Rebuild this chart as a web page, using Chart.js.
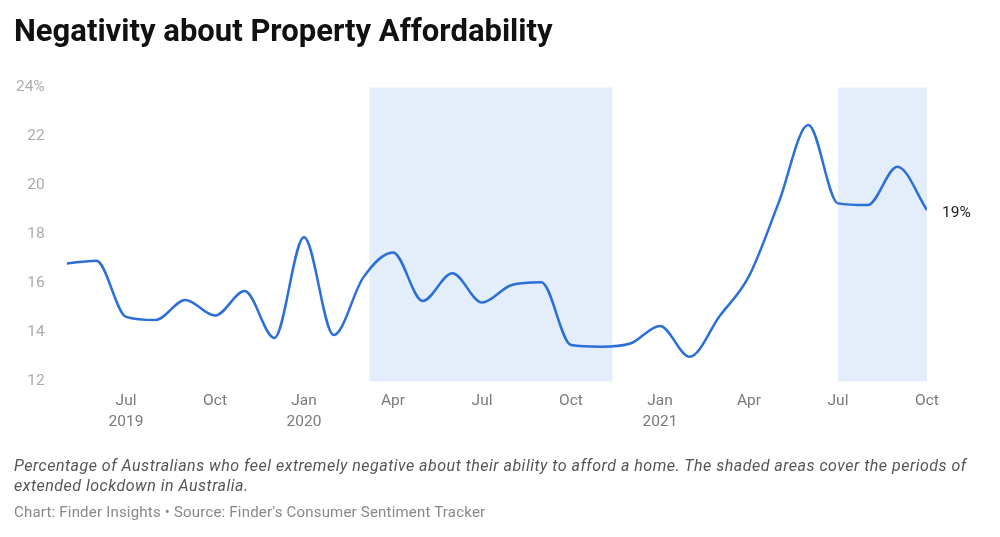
<!DOCTYPE html>
<html>
<head>
<meta charset="utf-8">
<script src="https://cdn.jsdelivr.net/npm/chart.js@4"></script>
<style>
  html, body { margin:0; padding:0; background:#fff; width:1000px; height:537px; overflow:hidden; font-family: Roboto, "Noto Sans", sans-serif; }
  #wrap { position:absolute; left:0; top:0; width:1000px; height:537px; }
  #title { position:absolute; left:14px; top:11px; font-size:31px; line-height:40px; font-weight:700; color:#111; white-space:nowrap; }
  #caption { position:absolute; left:14px; top:456px; width:975px; font-size:16px; letter-spacing:0.5px; font-style:italic; color:#555; line-height:20px; }
  #source { position:absolute; left:14px; top:503px; font-size:15px; letter-spacing:0.2px; color:#888; white-space:nowrap; }
  canvas { position:absolute; left:0; top:0; }
</style>
</head>
<body>
<div id="wrap">
  <canvas id="c" width="1000" height="537"></canvas>
  <div id="title">Negativity about Property Affordability</div>
  <div id="caption">Percentage of Australians who feel extremely negative about their ability to afford a home. The shaded areas cover the periods of extended lockdown in Australia.</div>
  <div id="source">Chart: Finder Insights • Source: Finder's Consumer Sentiment Tracker</div>
</div>
<script>
// Months from May 2019 (index 0) to Oct 2021 (index 29)
const months = ['2019-05','2019-06','2019-07','2019-08','2019-09','2019-10','2019-11','2019-12',
  '2020-01','2020-02','2020-03','2020-04','2020-05','2020-06','2020-07','2020-08','2020-09','2020-10','2020-11','2020-12',
  '2021-01','2021-02','2021-03','2021-04','2021-05','2021-06','2021-07','2021-08','2021-09','2021-10'];
const negativity = [16.82,16.93,14.64,14.51,15.33,14.69,15.69,13.78,
  17.89,13.90,16.25,17.27,15.29,16.42,15.22,15.94,16.05,13.49,13.42,13.55,
  14.27,13.01,14.65,16.30,19.30,22.47,19.27,19.20,20.77,19.00];
// Lockdown periods (month index start, end)
const lockdownStart = [10.2, 26.0];
const lockdownEnd   = [18.4, 29.0];
// X tick positions (month index) and labels
const xTickIndex = [2,5,8,11,14,17,20,23,26,29];
const xTickMonth = ['Jul','Oct','Jan','Apr','Jul','Oct','Jan','Apr','Jul','Oct'];
const xTickYear  = ['2019','','2020','','','','2021','','',''];
const yTicks = [12,14,16,18,20,22,24];
const endLabel = '19%';

const points = negativity.map((v,i)=>({x:i, y:v}));

const shadePlugin = {
  id:'shade',
  beforeDatasetsDraw(chart){
    const {ctx, chartArea, scales:{x}} = chart;
    ctx.save();
    ctx.fillStyle = '#e4eefb';
    for (let i=0;i<lockdownStart.length;i++){
      const x0 = x.getPixelForValue(lockdownStart[i]);
      const x1 = x.getPixelForValue(lockdownEnd[i]);
      ctx.fillRect(x0, chartArea.top, x1-x0, chartArea.bottom-chartArea.top);
    }
    ctx.restore();
  }
};
const endLabelPlugin = {
  id:'endLabel',
  afterDatasetsDraw(chart){
    const meta = chart.getDatasetMeta(0);
    const p = meta.data[meta.data.length-1];
    const ctx = chart.ctx;
    ctx.save();
    ctx.font = '15.5px Roboto';
    ctx.fillStyle = '#222';
    ctx.textBaseline = 'middle';
    ctx.textAlign = 'left';
    ctx.fillText(endLabel, p.x + 15, p.y + 3);
    ctx.restore();
  }
};

new Chart(document.getElementById('c'), {
  type:'line',
  data:{ datasets:[{
    data: points,
    borderColor:'#2b6fd9',
    borderWidth:2.5,
    pointRadius:0,
    fill:false,
    cubicInterpolationMode:'monotone'
  }]},
  options:{
    responsive:false,
    animation:false,
    layout:{ padding:{ left:0, right:73, top:87.5, bottom:105.5 } },
    plugins:{ legend:{display:false}, tooltip:{enabled:false}, title:{display:false} },
    scales:{
      x:{
        type:'linear', min:0, max:29,
        grid:{display:false, drawTicks:false}, border:{display:false},
        afterBuildTicks(scale){ scale.ticks = xTickIndex.map(v=>({value:v})); },
        afterFit(scale){ scale.height = 50; },
        ticks:{
          padding:9, color:'#7a7a7a', font:{family:'Roboto', size:15.5, lineHeight:1.35}, maxRotation:0, autoSkip:false,
          callback(v){ const i = xTickIndex.indexOf(v); if(i<0) return ''; return xTickYear[i] ? [xTickMonth[i], xTickYear[i]] : xTickMonth[i]; }
        }
      },
      y:{
        type:'linear', min:12, max:24,
        grid:{display:false, drawTicks:false}, border:{display:false},
        afterBuildTicks(scale){ scale.ticks = yTicks.map(v=>({value:v})); },
        afterFit(scale){ scale.width = 66.7; },
        ticks:{
          padding:22, color:'#ababab', font:{family:'Roboto', size:15.5},
          callback(v){ return v===24 ? '24%' : String(v); }
        }
      }
    }
  },
  plugins:[shadePlugin, endLabelPlugin]
});
</script>
</body>
</html>
